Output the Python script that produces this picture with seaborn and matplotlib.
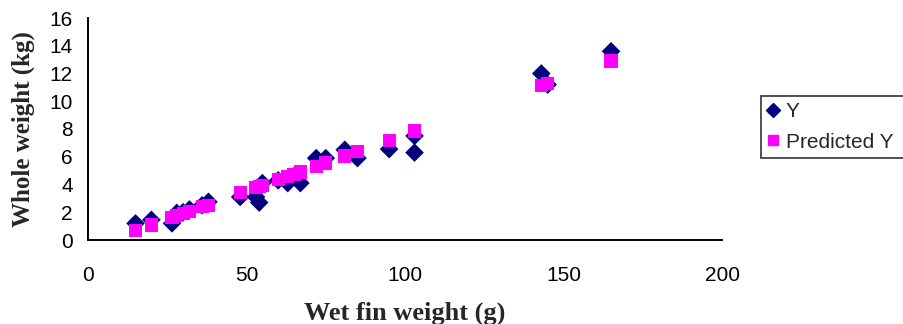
import matplotlib
matplotlib.use("Agg")
import matplotlib.pyplot as plt
import seaborn as sns
import pandas as pd
from matplotlib.lines import Line2D

# Data
fin_weight = [15, 20, 26.5, 28, 30, 32, 36, 38, 48, 53, 54, 55, 60, 63, 65, 67,
              72, 75, 81, 85, 95, 103, 103, 143, 145, 165]
y_actual = [1.2, 1.45, 1.2, 1.95, 2.0, 2.2, 2.5, 2.75, 3.1, 3.1, 2.7, 4.1, 4.3, 4.1, 4.6, 4.1,
            5.9, 5.9, 6.5, 5.9, 6.55, 7.5, 6.3, 12.0, 11.2, 13.6]
y_pred = [0.67, 1.08, 1.6, 1.75, 1.9, 2.05, 2.4, 2.5, 3.4, 3.8, 3.85, 3.95, 4.35, 4.6, 4.75, 4.9,
          5.3, 5.55, 6.05, 6.35, 7.15, 7.85, 7.85, 11.15, 11.3, 12.9]
series_names = ["Y", "Predicted Y"]
x_ticks = [0, 50, 100, 150, 200]
y_ticks = [0, 2, 4, 6, 8, 10, 12, 14, 16]

df = pd.DataFrame({
    "x": fin_weight * 2,
    "y": y_actual + y_pred,
    "series": [series_names[0]] * len(fin_weight) + [series_names[1]] * len(fin_weight),
})

sns.set_theme(style="white")
plt.rcParams["font.family"] = ["Liberation Sans", "DejaVu Sans"]

fig = plt.figure(figsize=(9.04, 3.24), dpi=100)
ax = fig.add_axes([88 / 904, 1 - 240 / 324, (722 - 88) / 904, (240 - 18) / 324])

sns.scatterplot(data=df, x="x", y="y", hue="series", style="series",
                palette={"Y": "#000080", "Predicted Y": "#FF00FF"},
                markers={"Y": "D", "Predicted Y": "s"},
                s=90, linewidth=0.6, edgecolor="none", ax=ax, legend=False, zorder=3)

ax.set_xlim(0, 200)
ax.set_ylim(0, 16)
ax.set_xticks(x_ticks)
ax.set_yticks(y_ticks)
ax.tick_params(axis="both", direction="inout", length=12, width=1.2, colors="black",
               labelsize=15)
ax.tick_params(axis="y", pad=5)
ax.tick_params(axis="x", pad=13)
for side in ["top", "right"]:
    ax.spines[side].set_visible(False)
for side in ["left", "bottom"]:
    ax.spines[side].set_color("black")
    ax.spines[side].set_linewidth(1.4)

ax.set_xlabel("Wet fin weight (g)", fontfamily="Liberation Serif", fontweight="bold",
              fontsize=19, labelpad=12)
ax.set_ylabel("Whole weight (kg)", fontfamily="Liberation Serif", fontweight="bold",
              fontsize=18, labelpad=10)

handles = [Line2D([], [], marker="D", linestyle="none", color="#000080", markersize=7),
           Line2D([], [], marker="s", linestyle="none", color="#FF00FF", markersize=7)]
leg = fig.legend(handles, series_names, loc="upper left",
                 bbox_to_anchor=(761 / 904, 1 - 96 / 324, 0.25, 0.0), mode="expand",
                 frameon=True, fancybox=False, fontsize=15, handletextpad=0.3,
                 handlelength=0.6, borderpad=0.3, labelspacing=0.55, borderaxespad=0)
leg.get_frame().set_edgecolor("black")
leg.get_frame().set_linewidth(1.2)

fig.savefig("out.png", dpi=100)
